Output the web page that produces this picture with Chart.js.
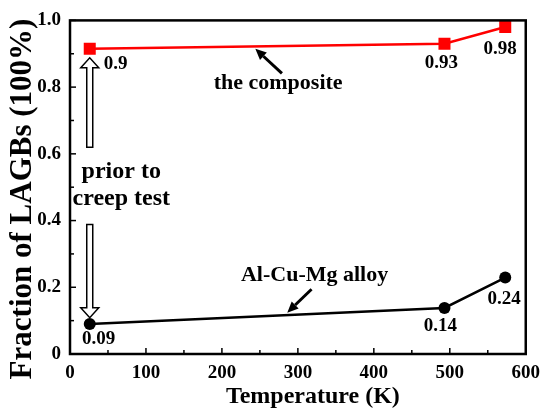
<!DOCTYPE html>
<html>
<head>
<meta charset="utf-8">
<script src="https://cdn.jsdelivr.net/npm/chart.js@4"></script>
<style>
  html, body { margin: 0; padding: 0; background: #fff; }
  #wrap { width: 548px; height: 409px; }
</style>
</head>
<body>
<div id="wrap"><canvas id="chart"></canvas></div>
<script>
const temps = [26, 493, 573];
const composite = [0.915, 0.93, 0.98];
const alloy = [0.09, 0.138, 0.229];
const compositeLabels = ["0.9", "0.93", "0.98"];
const alloyLabels = ["0.09", "0.14", "0.24"];
const xTicks = [0, 100, 200, 300, 400, 500, 600];
const yTicks = [0, 0.2, 0.4, 0.6, 0.8, 1.0];
const xTitle = "Temperature (K)";
const yTitle = "Fraction of LAGBs (100%)";

const SERIF = "'Liberation Serif', 'Times New Roman', serif";

// label offsets from the point, px
const labelOffsets = [
  [[14, 15, "left"], [-3, 19, "center"], [-5, 22, "center"]],
  [[9, 15, "center"], [-4, 18, "center"], [-1, 21, "center"]]
];
const pointLabels = [compositeLabels, alloyLabels];

// annotation positions in data units
const notes = [
  { text: "the composite", x: 274, y: 0.812, size: 22 },
  { text: "Al-Cu-Mg alloy", x: 322, y: 0.235, size: 22 },
  { text: "prior to", x: 67.5, y: 0.547, size: 24 },
  { text: "creep test", x: 67.5, y: 0.465, size: 24 }
];
const pointers = [
  { from: [279, 0.841], to: [244, 0.915] },
  { from: [318, 0.194], to: [286, 0.124] }
];
const hollowArrows = [
  { x: 26, from: 0.62, to: 0.888 },
  { x: 26, from: 0.388, to: 0.109 }
];

const decor = {
  id: "decor",
  afterDatasetsDraw(chart) {
    const { ctx, chartArea: a, scales: { x, y } } = chart;
    ctx.save();
    // frame
    ctx.strokeStyle = "#000";
    ctx.lineWidth = 2.5;
    ctx.strokeRect(a.left, a.top, a.right - a.left, a.bottom - a.top);
    // inward ticks
    ctx.lineWidth = 1.5;
    for (let v = 0; v <= 600; v += 50) {
      const px = x.getPixelForValue(v);
      const len = v % 100 === 0 ? 6 : 4;
      ctx.beginPath(); ctx.moveTo(px, a.bottom); ctx.lineTo(px, a.bottom - len); ctx.stroke();
    }
    for (let i = 0; i <= 10; i++) {
      const py = y.getPixelForValue(i / 10);
      const len = i % 2 === 0 ? 6 : 4;
      ctx.beginPath(); ctx.moveTo(a.left, py); ctx.lineTo(a.left + len, py); ctx.stroke();
    }
    // axis titles (both sit off-centre in the original)
    ctx.fillStyle = "#000";
    ctx.textBaseline = "middle";
    ctx.textAlign = "center";
    ctx.font = "bold 24px " + SERIF;
    ctx.fillText(xTitle, (a.left + a.right) / 2 + 15, 397);
    ctx.save();
    ctx.translate(23, 199);
    ctx.rotate(-Math.PI / 2);
    ctx.font = "bold 31px " + SERIF;
    ctx.fillText(yTitle, 0, 0);
    ctx.restore();
    // point labels
    ctx.font = "bold 19px " + SERIF;
    chart.data.datasets.forEach((ds, di) => {
      chart.getDatasetMeta(di).data.forEach((pt, i) => {
        const [dx, dy, al] = labelOffsets[di][i];
        ctx.textAlign = al;
        ctx.fillText(pointLabels[di][i], pt.x + dx, pt.y + dy);
      });
    });
    // text notes
    notes.forEach(n => {
      ctx.font = "bold " + n.size + "px " + SERIF;
      ctx.textAlign = "center";
      ctx.fillText(n.text, x.getPixelForValue(n.x), y.getPixelForValue(n.y));
    });
    // pointer arrows
    pointers.forEach(p => {
      const x1 = x.getPixelForValue(p.from[0]), y1 = y.getPixelForValue(p.from[1]);
      const x2 = x.getPixelForValue(p.to[0]), y2 = y.getPixelForValue(p.to[1]);
      const ang = Math.atan2(y2 - y1, x2 - x1);
      const hl = 11, hw = 5;
      const bx = x2 - hl * Math.cos(ang), by = y2 - hl * Math.sin(ang);
      ctx.lineWidth = 3;
      ctx.beginPath(); ctx.moveTo(x1, y1); ctx.lineTo(bx, by); ctx.stroke();
      ctx.beginPath();
      ctx.moveTo(x2, y2);
      ctx.lineTo(bx + hw * Math.sin(ang), by - hw * Math.cos(ang));
      ctx.lineTo(bx - hw * Math.sin(ang), by + hw * Math.cos(ang));
      ctx.closePath(); ctx.fill();
    });
    // hollow block arrows
    ctx.lineWidth = 1.5;
    hollowArrows.forEach(h => {
      const cx = x.getPixelForValue(h.x);
      const y0 = y.getPixelForValue(h.from), y1 = y.getPixelForValue(h.to);
      const dir = y1 < y0 ? -1 : 1;
      const sw = 3, hw = 9, hl = 10;
      const yb = y1 - dir * hl;
      ctx.beginPath();
      ctx.moveTo(cx - sw, y0);
      ctx.lineTo(cx - sw, yb);
      ctx.lineTo(cx - hw, yb);
      ctx.lineTo(cx, y1);
      ctx.lineTo(cx + hw, yb);
      ctx.lineTo(cx + sw, yb);
      ctx.lineTo(cx + sw, y0);
      ctx.closePath();
      ctx.fillStyle = "#fff"; ctx.fill();
      ctx.stroke();
      ctx.fillStyle = "#000";
    });
    ctx.restore();
  }
};

new Chart(document.getElementById("chart"), {
  type: "line",
  data: {
    datasets: [
      {
        label: "the composite",
        data: temps.map((t, i) => ({ x: t, y: composite[i] })),
        borderColor: "#ff0000", backgroundColor: "#ff0000",
        borderWidth: 2.5, pointStyle: "rect", pointRadius: 8.5,
        pointBorderWidth: 0
      },
      {
        label: "Al-Cu-Mg alloy",
        data: temps.map((t, i) => ({ x: t, y: alloy[i] })),
        borderColor: "#000", backgroundColor: "#000",
        borderWidth: 2.5, pointStyle: "circle", pointRadius: 6,
        pointBorderWidth: 0
      }
    ]
  },
  options: {
    responsive: true,
    maintainAspectRatio: false,
    animation: false,
    layout: { padding: { left: 0, right: 16, top: 14, bottom: 0 } },
    plugins: { legend: { display: false }, tooltip: { enabled: false } },
    scales: {
      x: {
        type: "linear", min: 0, max: 600,
        afterBuildTicks: s => { s.ticks = xTicks.map(v => ({ value: v })); },
        afterFit: s => { s.height = 55; },
        grid: { display: false, drawTicks: false },
        border: { display: false },
        ticks: { color: "#000", padding: 8, font: { family: SERIF, size: 19, weight: "bold" } }
      },
      y: {
        type: "linear", min: 0, max: 1,
        afterBuildTicks: s => { s.ticks = yTicks.map(v => ({ value: v })); },
        afterFit: s => { s.width = 70; },
        grid: { display: false, drawTicks: false },
        border: { display: false },
        ticks: { color: "#000", padding: 9, font: { family: SERIF, size: 19, weight: "bold" },
          callback: v => v === 0 ? "0" : v.toFixed(1) }
      }
    }
  },
  plugins: [decor]
});
</script>
</body>
</html>
